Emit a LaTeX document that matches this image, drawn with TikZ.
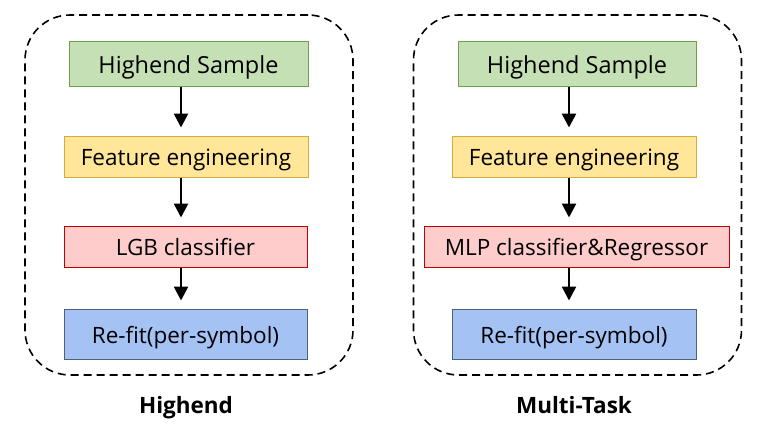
\documentclass[tikz,border=0pt]{standalone}
\usepackage{fontspec}
\setmainfont{Open Sans}
\usepackage{xcolor}
\usetikzlibrary{arrows.meta, positioning}

\definecolor{greenfill}{HTML}{C5E0B4}
\definecolor{greenline}{HTML}{6E9E4E}
\definecolor{yellowfill}{HTML}{FFE699}
\definecolor{yellowline}{HTML}{D9A93A}
\definecolor{redfill}{HTML}{FFCCCC}
\definecolor{redline}{HTML}{C00000}
\definecolor{bluefill}{HTML}{A4C2F4}
\definecolor{blueline}{HTML}{4F617A}

\begin{document}
\begin{tikzpicture}[
    x=1pt, y=-1pt,
    block/.style={rectangle, line width=1pt, inner sep=0pt, minimum height=41pt, text height=18pt, text depth=0pt, font=\fontsize{22.5}{27}\selectfont},
    panel/.style={rectangle, draw=black, dashed, dash pattern=on 8pt off 5pt, line width=1.6pt, rounded corners=45pt, minimum width=328pt, minimum height=360pt},
    caption/.style={text height=17pt, text depth=0pt, font=\fontsize{22.5}{27}\selectfont\bfseries},
    arrow/.style={-{Triangle[length=14pt, width=14pt]}, line width=2.6pt, shorten >=8pt}
]
\useasboundingbox (0,0) rectangle (769,426);

% Dashed panels
\node[panel] (p1) at (189,195) {};
\node[panel] (p2) at (577.5,195) {};

% Left pipeline
\node[block, fill=greenfill, draw=greenline, minimum width=239pt, minimum height=45pt, text height=19pt, font=\fontsize{23.5}{28}\selectfont] (g1) at (188.5,63.5) {Highend Sample};
\node[block, fill=yellowfill, draw=yellowline, minimum width=244pt] (y1) at (186,156.5) {Feature engineering};
\node[block, fill=redfill, draw=redline, minimum width=243pt] (r1) at (185.5,246.5) {LGB classifier};
\node[block, fill=bluefill, draw=blueline, minimum width=243pt, minimum height=50pt] (b1) at (185.5,334) {Re-fit(per-symbol)};

% Right pipeline
\node[block, fill=greenfill, draw=greenline, minimum width=238pt, minimum height=45pt, text height=19pt, font=\fontsize{23.5}{28}\selectfont] (g2) at (577,63.5) {Highend Sample};
\node[block, fill=yellowfill, draw=yellowline, minimum width=244pt] (y2) at (574,156.5) {Feature engineering};
\node[block, fill=redfill, draw=redline, minimum width=305pt] (r2) at (576.5,246.5) {MLP classifier\&Regressor};
\node[block, fill=bluefill, draw=blueline, minimum width=244pt, minimum height=50pt] (b2) at (574,334) {Re-fit(per-symbol)};

% Arrow columns
\coordinate (la) at (181,0);
\coordinate (ra) at (569,0);

\draw[arrow] (g1.south -| la) -- (y1.north -| la);
\draw[arrow] (y1.south -| la) -- (r1.north -| la);
\draw[arrow] (r1.south -| la) -- (b1.north -| la);

\draw[arrow] (g2.south -| ra) -- (y2.north -| ra);
\draw[arrow] (y2.south -| ra) -- (r2.north -| ra);
\draw[arrow] (r2.south -| ra) -- (b2.north -| ra);

% Captions
\node[caption] (c1) at (186,405) {Highend};
\node[caption] (c2) at (574,405) {Multi-Task};
\end{tikzpicture}
\end{document}
